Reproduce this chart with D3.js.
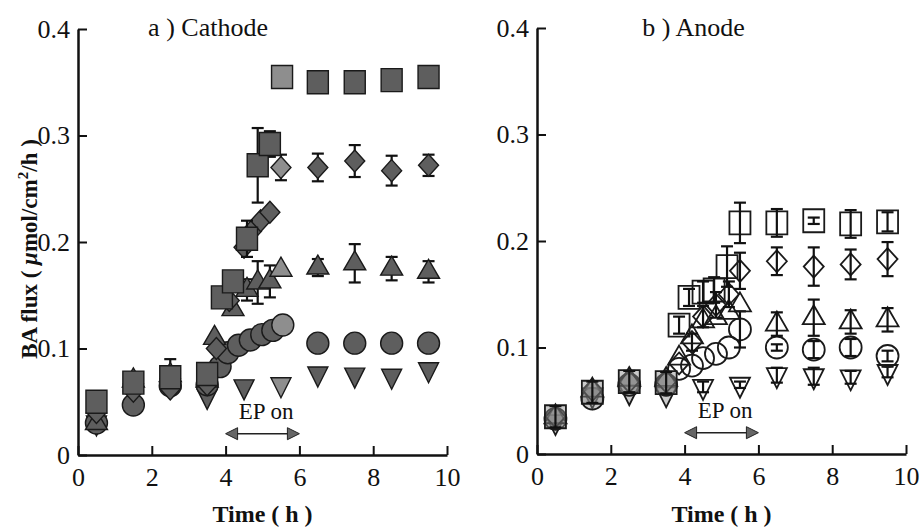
<!DOCTYPE html>
<html>
<head>
<meta charset="utf-8">
<script src="https://cdn.jsdelivr.net/npm/d3@7"></script>
<style>
body { margin: 0; background: #fff; }
svg text { font-family: "Liberation Serif", "Times New Roman", serif; fill: #111; }
</style>
</head>
<body>
<svg id="chart" width="920" height="527"></svg>
<script>
// each point: [time (h), BA flux (umol/cm2/h), error]
let cathodeSquare = [[0.5,0.05,0],[1.5,0.068,0],[2.5,0.073,0],[3.5,0.076,0],[3.9,0.148,0],[4.2,0.163,0],
    [4.58,0.203,0.017],[4.87,0.272,0.035],[5.2,0.292,0.012],[5.53,0.355,0],[6.5,0.35,0],[7.5,0.35,0],[8.5,0.352,0],[9.5,0.355,0]]
let cathodeDiamond = [[0.5,0.04,0],[1.5,0.06,0],[2.5,0.062,0],[3.5,0.066,0],[3.75,0.1,0],[4.1,0.145,0],[4.5,0.195,0],
    [4.7,0.21,0],[4.95,0.22,0],[5.2,0.228,0],[5.5,0.27,0.012],[6.5,0.27,0.013],[7.5,0.276,0.015],[8.5,0.267,0.014],[9.5,0.272,0.01]]
let cathodeTriangle = [[0.5,0.03,0],[1.5,0.07,0],[2.5,0.075,0.015],[3.5,0.07,0],[3.7,0.11,0],[4.2,0.137,0],[4.58,0.155,0.01],
    [4.87,0.162,0.02],[5.2,0.163,0.015],[5.5,0.174,0],[6.5,0.176,0.008],[7.5,0.18,0.018],[8.5,0.175,0.011],[9.5,0.172,0.01]]
let cathodeCircle = [[0.5,0.03,0],[1.5,0.047,0],[2.5,0.065,0],[3.5,0.066,0],[3.85,0.083,0],[4.06,0.096,0],[4.35,0.103,0],
    [4.67,0.108,0],[4.98,0.113,0],[5.28,0.117,0],[5.55,0.122,0],[6.5,0.105,0],[7.5,0.105,0],[8.5,0.105,0],[9.5,0.105,0]]
let cathodeDown = [[0.5,0.03,0],[1.5,0.06,0],[2.5,0.065,0],[3.5,0.055,0],[4.5,0.064,0],[5.5,0.066,0],
    [6.5,0.076,0],[7.5,0.075,0],[8.5,0.074,0],[9.5,0.08,0]]

let anodeSquare = [[0.5,0.035,0.01],[1.5,0.058,0.01],[2.5,0.068,0.01],[3.5,0.067,0.01],[3.85,0.121,0.008],[4.12,0.147,0.008],
    [4.5,0.152,0.01],[4.8,0.154,0.012],[5.15,0.176,0.019],[5.5,0.217,0.019],[6.5,0.217,0.013],[7.5,0.219,0.003],[8.5,0.216,0.013],[9.5,0.218,0.009]]
let anodeDiamond = [[0.5,0.035,0],[1.5,0.06,0],[2.5,0.068,0],[3.5,0.068,0],[3.85,0.085,0],[4.2,0.105,0.008],[4.5,0.129,0.01],
    [4.85,0.14,0.012],[5.2,0.15,0.012],[5.5,0.172,0.017],[6.5,0.181,0.013],[7.5,0.176,0.018],[8.5,0.178,0.014],[9.5,0.183,0.016]]
let anodeTriangle = [[0.5,0.035,0],[1.5,0.06,0],[2.5,0.07,0],[3.5,0.07,0],[3.85,0.09,0],[4.2,0.11,0],[4.5,0.125,0],
    [4.85,0.128,0],[5.2,0.133,0],[5.5,0.14,0],[6.5,0.122,0.011],[7.5,0.128,0.017],[8.5,0.124,0.011],[9.5,0.126,0.011]]
let anodeCircle = [[0.5,0.033,0],[1.5,0.052,0],[2.5,0.065,0],[3.5,0.065,0],[3.85,0.08,0],[4.2,0.083,0],[4.5,0.09,0],
    [4.85,0.094,0],[5.2,0.1,0],[5.5,0.117,0.017],[6.5,0.1,0.003],[7.5,0.098,0.008],[8.5,0.1,0.008],[9.5,0.092,0.005]]
let anodeDown = [[0.5,0.03,0],[1.5,0.055,0],[2.5,0.058,0],[3.5,0.056,0],[4.5,0.063,0.005],[5.5,0.065,0.003],
    [6.5,0.074,0.007],[7.5,0.073,0.008],[8.5,0.072,0.006],[9.5,0.077,0.005]]

let xTicks = [0, 2, 4, 6, 8, 10]
let yTicks = [0, 0.1, 0.2, 0.3, 0.4]
let epOn = [4, 6]

let svg = d3.select('#chart')

// marker outlines, centred on 0,0
let shapes = {
    square: 'M-10.5,-11.5h21v23h-21Z',
    diamond: 'M0,-11L10,0L0,11L-10,0Z',
    triangle: 'M0,-12.5L11,6.5L-11,6.5Z',
    circle: 'M-11,0a11,11 0 1,0 22,0a11,11 0 1,0 -22,0',
    down: 'M0,13L10,-7L-10,-7Z'
}

let drawPanel = (opts) => {
    let x = d3.scaleLinear().domain([0, 10]).range([opts.left, opts.left + 369])
    let y = d3.scaleLinear().domain([0, 0.4]).range([opts.bottom, opts.bottom - 426])
    let g = svg.append('g')

    g.append('g')
        .attr('transform', 'translate(' + opts.left + ',0)')
        .call(d3.axisLeft(y).tickValues(yTicks).tickSizeInner(-9).tickSizeOuter(0).tickPadding(8)
            .tickFormat(d => d === 0 ? '0' : d3.format('.1f')(d)))
    g.append('g')
        .attr('transform', 'translate(0,' + opts.bottom + ')')
        .call(d3.axisBottom(x).tickValues(xTicks).tickSizeInner(-9).tickSizeOuter(0).tickPadding(13))
    g.selectAll('.domain').attr('stroke', '#111').attr('stroke-width', 2.5)
    g.selectAll('.tick line').attr('stroke', '#111').attr('stroke-width', 2)
    g.selectAll('.tick text').attr('font-size', 26).attr('fill', '#111')
        .style('font-family', '"Liberation Serif", serif')

    // panel title
    g.append('text').attr('x', x(opts.titleAt)).attr('y', 36)
        .attr('font-size', 26).text(opts.title)

    // EP on label + double arrow
    g.append('text').attr('x', x(5.1)).attr('y', y(0.034)).attr('text-anchor', 'middle')
        .attr('font-size', 23).text('EP on')
    let ay = y(0.02)
    g.append('line').attr('x1', x(epOn[0]) + 6).attr('x2', x(epOn[1]) - 6)
        .attr('y1', ay).attr('y2', ay).attr('stroke', '#222').attr('stroke-width', 1.5)
    g.append('path').attr('d', 'M' + x(epOn[0]) + ',' + ay + 'l12,-6v12Z')
        .attr('fill', '#666').attr('stroke', '#222').attr('stroke-width', 1)
    g.append('path').attr('d', 'M' + x(epOn[1]) + ',' + ay + 'l-12,-6v12Z')
        .attr('fill', '#666').attr('stroke', '#222').attr('stroke-width', 1)

    let drawErr = (data) => {
        let e = g.append('g').selectAll('g').data(data.filter(d => d[2] > 0)).enter().append('g')
            .attr('stroke', '#111').attr('stroke-width', 2.2)
        e.append('line').attr('x1', d => x(d[0])).attr('x2', d => x(d[0]))
            .attr('y1', d => y(d[1] - d[2])).attr('y2', d => y(d[1] + d[2]))
        e.append('line').attr('x1', d => x(d[0]) - 6).attr('x2', d => x(d[0]) + 6)
            .attr('y1', d => y(d[1] + d[2])).attr('y2', d => y(d[1] + d[2]))
        e.append('line').attr('x1', d => x(d[0]) - 6).attr('x2', d => x(d[0]) + 6)
            .attr('y1', d => y(d[1] - d[2])).attr('y2', d => y(d[1] - d[2]))
    }

    let drawMarks = (data, shape) => {
        g.append('g').selectAll('path').data(data).enter().append('path')
            .attr('d', shapes[shape])
            .attr('transform', d => 'translate(' + x(d[0]) + ',' + y(d[1]) + ')')
            .attr('fill', d => {
                if (!opts.filled) return d[0] < 3.6 ? '#8a8a8a' : 'none'
                return (d[0] > 5.4 && d[0] < 6) ? '#8e8e8e' : '#5e5e5e'
            })
            .attr('fill-opacity', d => (!opts.filled && d[0] < 3.6) ? 0.45 : 1)
            .attr('stroke', '#1a1a1a')
            .attr('stroke-width', opts.filled ? 1.4 : 1.8)
    }

    opts.series.forEach(s => {
        if (opts.filled) { drawErr(s.data); drawMarks(s.data, s.shape) }
        else { drawMarks(s.data, s.shape); drawErr(s.data) }
    })

    g.append('text').attr('x', x(5)).attr('y', 522).attr('text-anchor', 'middle')
        .attr('font-size', 24).attr('font-weight', 'bold').text('Time ( h )')
}

drawPanel({
    left: 78, bottom: 455, filled: true, title: 'a ) Cathode', titleAt: 1.9,
    series: [
        { data: cathodeDown, shape: 'down' },
        { data: cathodeCircle, shape: 'circle' },
        { data: cathodeTriangle, shape: 'triangle' },
        { data: cathodeDiamond, shape: 'diamond' },
        { data: cathodeSquare, shape: 'square' }
    ]
})

drawPanel({
    left: 537, bottom: 454, filled: false, title: 'b ) Anode', titleAt: 2.85,
    series: [
        { data: anodeDown, shape: 'down' },
        { data: anodeCircle, shape: 'circle' },
        { data: anodeTriangle, shape: 'triangle' },
        { data: anodeDiamond, shape: 'diamond' },
        { data: anodeSquare, shape: 'square' }
    ]
})

// y axis title
let yt = svg.append('text')
    .attr('transform', 'translate(37,249) rotate(-90)')
    .attr('text-anchor', 'middle').attr('font-size', 23).attr('font-weight', 'bold')
yt.append('tspan').text('BA flux ( ')
yt.append('tspan').attr('font-style', 'italic').text('μ')
yt.append('tspan').text('mol/cm')
yt.append('tspan').attr('font-size', 15).attr('dy', -9).text('2')
yt.append('tspan').attr('dy', 9).text('/h )')
</script>
</body>
</html>
